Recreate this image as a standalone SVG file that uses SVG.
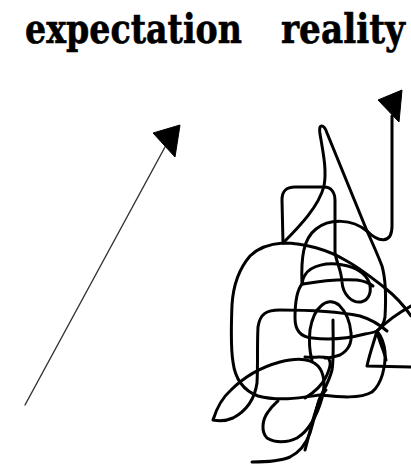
<svg xmlns="http://www.w3.org/2000/svg" width="411" height="472" viewBox="0 0 411 472">
<style>
.t{font-family:"DejaVu Serif","Liberation Serif",serif;font-weight:bold;font-size:33px;fill:#000;stroke:#000;stroke-width:0.5}
.sq{fill:none;stroke:#000;stroke-width:3;stroke-linecap:round;stroke-linejoin:round}
.st{fill:none;stroke:#333;stroke-width:1.4;stroke-linecap:round}
.ah{fill:#000;stroke:#000;stroke-width:1;stroke-linejoin:round}
</style>
<rect width="411" height="472" fill="#fff"/>
<g id="labels">
<text class="t" transform="translate(25,43) scale(1,1.25)" x="0" y="0" textLength="217" lengthAdjust="spacingAndGlyphs">expectation</text>
<text class="t" transform="translate(281,43) scale(1,1.25)" x="0" y="0" textLength="124" lengthAdjust="spacingAndGlyphs">reality</text>
</g>
<g id="expectation">
<line class="st" x1="25" y1="405" x2="165" y2="147"/>
<polygon class="ah" points="153,133 180,125 175,157"/>
</g>
<g id="reality">
<polygon class="ah" points="378,100 402,90 399,122"/>
<path class="sq" d="M392,116 L392,226 C392,245 378,242 367,231"/>
<path class="sq" d="M367,231 C352,219 330,218 316,229 C303,239 301,258 302,284"/>
<path class="sq" d="M367,231 L327,133 C324,124 318,123 320,134 C323,152 327,170 324,186 C319,206 300,226 283,243"/>
<path class="sq" d="M283,243 L282,200 C282,191 286,187 295,187 L324,187 C331,187 335,192 335,201 L335,252 C336,262 341,268 342,282 C343,295 352,303 361,302 C370,300 372,290 369,282 C365,273 355,267 343,265 C328,262 311,265 305,275 C302,280 302,282 303,284 C320,281 340,279 357,280 C364,281 369,283 373,286"/>
<path class="sq" d="M367,231 C372,242 377,253 382,266 C386,280 386,300 385,317 C384,324 381,328 377,331"/>
<path class="sq" d="M411,316 C403,304 395,296 385,288 C372,278 360,268 345,260 C328,250 305,243 283,243 C268,244 258,248 250,256 C238,270 233,288 232,305 C231,330 231,350 233,362 C235,378 242,390 258,396 C280,402 305,397 320,395 C340,397 360,399 372,392 C382,384 386,365 385,352 C384,342 381,336 377,331"/>
<path class="sq" d="M302,284 C297,290 295,302 295,318 C295,330 300,337 312,338 C330,340 350,338 365,334 C371,333 375,332 377,331 C387,321 398,313 411,306"/>
<path class="sq" d="M387,331 C380,325 370,319 360,316 C340,312 310,310 280,310 C266,310 260,314 258,327 C257,345 258,365 257,383 C255,397 248,410 233,418 C226,421 218,421 213,420 C216,410 222,398 231,390 C243,378 258,368 280,362 C295,358 310,358 318,366 C325,374 325,386 322,398 C318,412 310,430 297,438 C287,443 275,443 267,438 C261,432 262,420 268,412 C272,406 276,403 278,401"/>
<path class="sq" d="M252,462 C262,462 278,462 290,457 C300,452 306,444 310,433 C314,420 316,410 319,400 C323,390 328,385 332,370 C334,358 333,340 333,320"/>
<path class="sq" d="M305,398 C315,392 322,385 326,377 C330,368 332,362 328,358 C322,356 312,358 305,357 M312,360 C309,350 309,340 310,330 C312,318 316,310 321,306 C326,301 333,300 339,305 C346,312 350,320 351,333 C352,342 349,350 340,355 C334,357 328,358 325,358"/>
<path class="sq" d="M305,450 C308,440 311,425 316,410 C319,400 322,394 326,390"/>
<path class="sq" d="M377,331 C374,342 370,352 367,366 L411,367 M377,331 C379,342 384,350 386,360"/>
</g>
</svg>
